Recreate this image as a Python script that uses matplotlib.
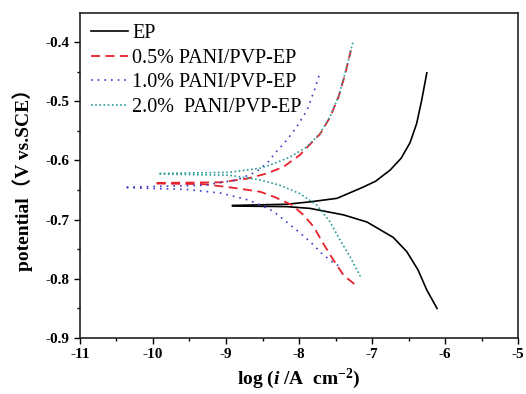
import matplotlib
matplotlib.use("Agg")
import matplotlib.pyplot as plt
from matplotlib.ticker import MultipleLocator

plt.rcParams['font.family'] = ['Liberation Serif', 'DejaVu Serif']
plt.rcParams['mathtext.fontset'] = 'custom'
plt.rcParams['mathtext.rm'] = 'Liberation Serif:bold'
plt.rcParams['mathtext.it'] = 'Liberation Serif:italic:bold'
plt.rcParams['mathtext.bf'] = 'Liberation Serif:bold'

labels = ["EP", "0.5% PANI/PVP-EP", "1.0% PANI/PVP-EP", "2.0%  PANI/PVP-EP"]

# EP (anodic / cathodic branches)
ep_an_x = [-8.91, -8.53, -8.17, -7.85, -7.48, -7.12, -6.95, -6.75, -6.60, -6.48, -6.39, -6.32, -6.25]
ep_an_y = [-0.676, -0.675, -0.674, -0.670, -0.664, -0.645, -0.635, -0.616, -0.596, -0.570, -0.538, -0.498, -0.452]
ep_ca_x = [-8.91, -8.17, -7.85, -7.39, -7.07, -6.71, -6.525, -6.37, -6.25, -6.11]
ep_ca_y = [-0.677, -0.678, -0.681, -0.692, -0.704, -0.730, -0.754, -0.785, -0.819, -0.850]

# 0.5% PANI/PVP-EP
r_an_x = [-9.95, -9.08, -8.72, -8.44, -8.215, -7.99, -7.89, -7.71, -7.575, -7.46, -7.37, -7.29]
r_an_y = [-0.638, -0.637, -0.631, -0.622, -0.611, -0.591, -0.578, -0.555, -0.527, -0.493, -0.455, -0.414]
r_ca_x = [-9.95, -9.31, -8.85, -8.53, -8.35, -8.10, -7.94, -7.80, -7.67, -7.53, -7.39, -7.23]
r_ca_y = [-0.639, -0.640, -0.647, -0.653, -0.661, -0.675, -0.692, -0.712, -0.740, -0.768, -0.794, -0.810]

# 1.0% PANI/PVP-EP
b_an_x = [-10.36, -9.31, -8.85, -8.58, -8.42, -8.33, -8.17, -8.03, -7.89, -7.78, -7.71]
b_an_y = [-0.645, -0.642, -0.633, -0.619, -0.602, -0.588, -0.566, -0.543, -0.515, -0.478, -0.450]
b_ca_x = [-10.36, -9.54, -9.08, -8.72, -8.53, -8.35, -8.17, -8.03, -7.85, -7.69, -7.55, -7.42]
b_ca_y = [-0.646, -0.649, -0.655, -0.666, -0.675, -0.686, -0.704, -0.718, -0.737, -0.757, -0.771, -0.781]

# 2.0% PANI/PVP-EP
t_an_x = [-9.91, -8.95, -8.53, -8.40, -8.12, -7.89, -7.71, -7.575, -7.46, -7.37, -7.30, -7.26]
t_an_y = [-0.622, -0.620, -0.613, -0.608, -0.594, -0.577, -0.554, -0.526, -0.492, -0.453, -0.419, -0.399]
t_ca_x = [-9.91, -8.95, -8.53, -8.26, -7.99, -7.76, -7.575, -7.44, -7.30, -7.16]
t_ca_y = [-0.623, -0.625, -0.633, -0.642, -0.656, -0.675, -0.704, -0.734, -0.763, -0.796]

fig = plt.figure(figsize=(5.26, 3.94), dpi=100)
ax = fig.add_axes([0.152, 0.142, 0.833, 0.825])

c_ep, c_r, c_b, c_t = 'black', '#e8202a', '#3a3acc', '#2a9a9a'
ax.plot(ep_an_x, ep_an_y, color=c_ep, lw=1.2, label=labels[0])
ax.plot(ep_ca_x, ep_ca_y, color=c_ep, lw=1.2)
ax.plot(r_an_x, r_an_y, color=c_r, lw=1.3, dashes=(5, 3), label=labels[1])
ax.plot(r_ca_x, r_ca_y, color=c_r, lw=1.3, dashes=(5, 3))
ax.plot(b_an_x, b_an_y, color=c_b, lw=1.2, dashes=(1, 3), label=labels[2])
ax.plot(b_ca_x, b_ca_y, color=c_b, lw=1.2, dashes=(1, 3))
ax.plot(t_an_x, t_an_y, color=c_t, lw=1.2, dashes=(1, 1.5), label=labels[3])
ax.plot(t_ca_x, t_ca_y, color=c_t, lw=1.2, dashes=(1, 1.5))

xticks = [-11, -10, -9, -8, -7, -6, -5]
yticks = [-0.9, -0.8, -0.7, -0.6, -0.5, -0.4]
ax.set_xticks(xticks)
ax.set_xticklabels([f"{v:d}" for v in xticks], fontweight='bold')
ax.set_yticks(yticks)
ax.set_yticklabels([f"{v:.1f}" for v in yticks], fontweight='bold')
ax.xaxis.set_minor_locator(MultipleLocator(0.5))
ax.yaxis.set_minor_locator(MultipleLocator(0.05))
ax.tick_params(which='both', direction='out', top=False, right=False, labelsize=11)
ax.tick_params(which='major', length=4, width=1)
ax.tick_params(which='minor', length=2.5, width=1)
ax.set_xlim(-11, -5)
ax.set_ylim(-0.9, -0.351)
for s in ax.spines.values():
    s.set_linewidth(1.2)
    s.set_color('#222222')

ax.set_xlabel(r'log ($i$ /A  cm$^{-2}$)', fontsize=14, fontweight='bold', labelpad=4)
ax.set_ylabel('potential（V vs.SCE）', fontsize=14, fontweight='bold', labelpad=9,
              family=['Liberation Serif', 'Noto Sans CJK SC'])

ax.legend(loc='upper left', frameon=False, fontsize=14.5, handlelength=1.85,
          handletextpad=0.2, labelspacing=0.27, borderaxespad=0.15, borderpad=0.4)

fig.savefig('out.png', dpi=100)
